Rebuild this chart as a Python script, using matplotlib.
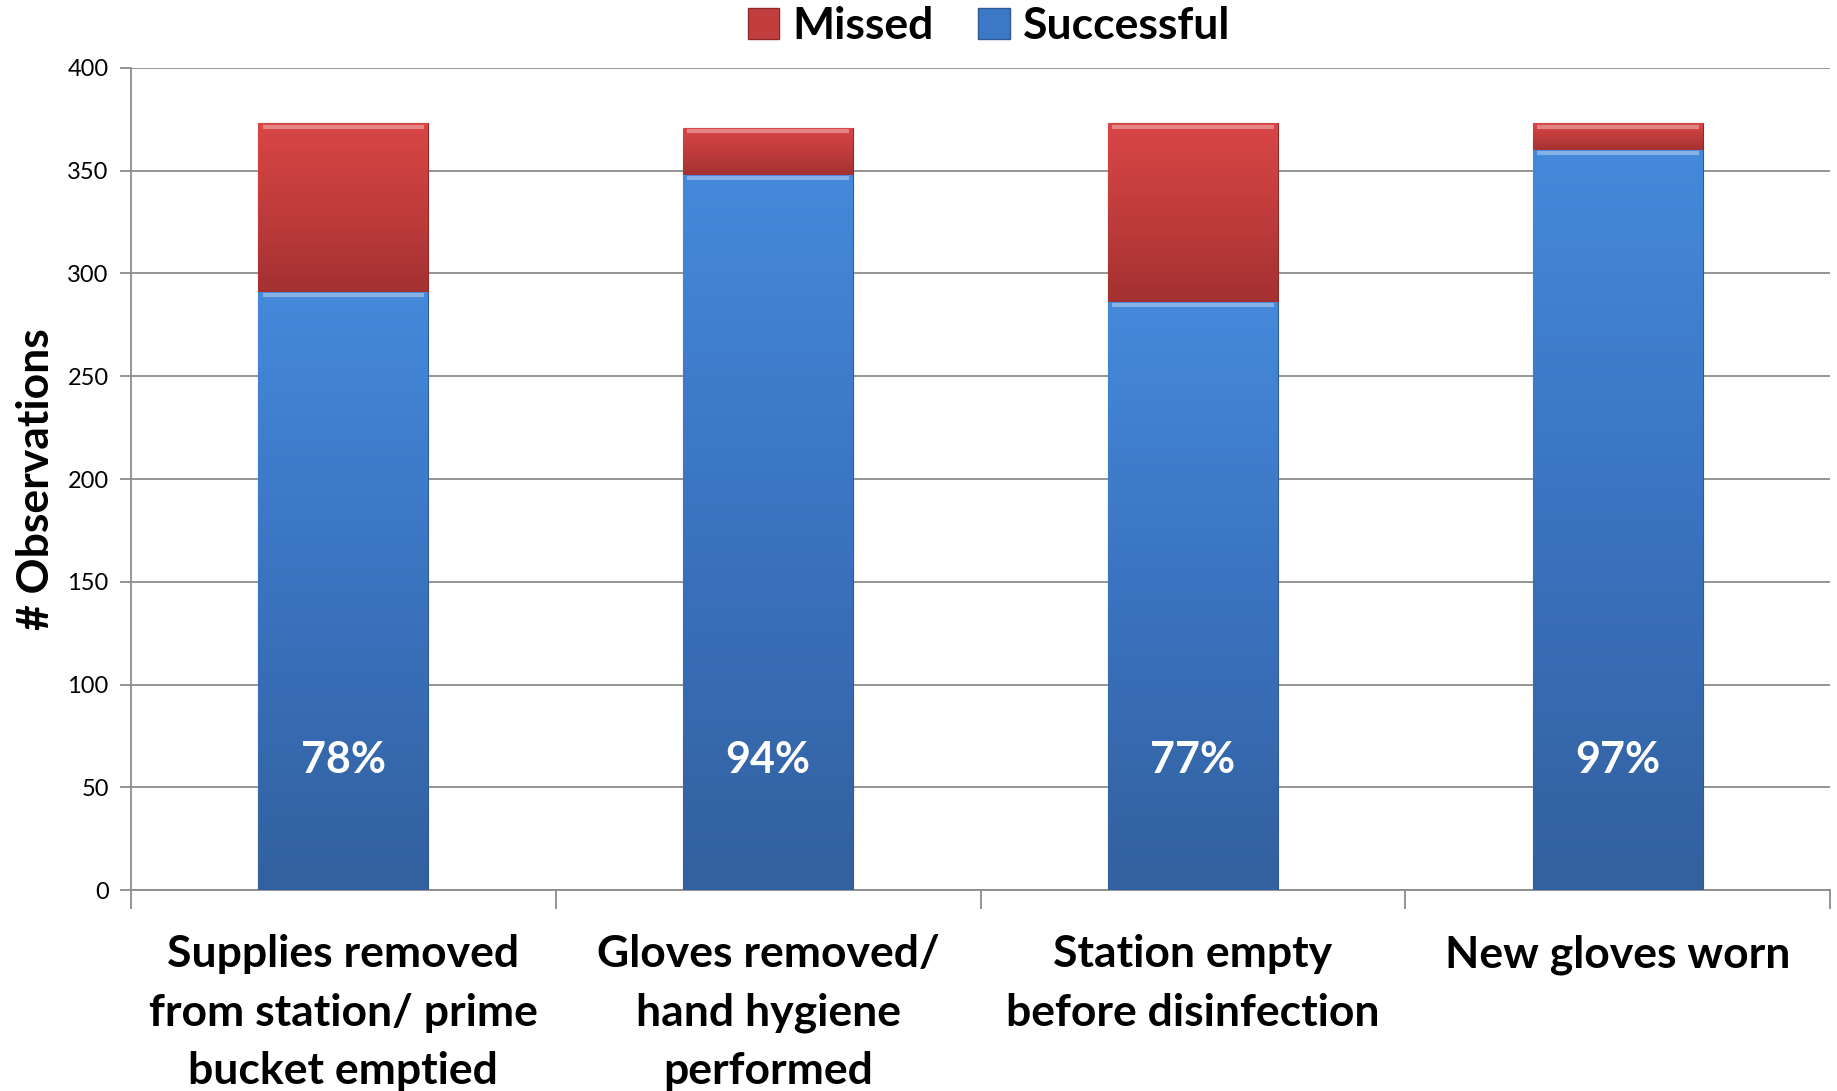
import matplotlib.pyplot as plt
import numpy as np
from matplotlib.patches import Patch
from matplotlib.colors import LinearSegmentedColormap

plt.rcParams['font.family'] = ['Lato', 'DejaVu Sans']

categories = ['Supplies removed\nfrom station/ prime\nbucket emptied',
              'Gloves removed/\nhand hygiene\nperformed',
              'Station empty\nbefore disinfection',
              'New gloves worn']
successful = [291, 348, 286, 360]
missed = [82, 23, 87, 13]
pct_labels = ['78%', '94%', '77%', '97%']

blue_cm = LinearSegmentedColormap.from_list('b', ['#33609e', '#3a73c0', '#4589da'])
red_cm = LinearSegmentedColormap.from_list('r', ['#a43131', '#c13c3c', '#d94646'])

fig = plt.figure(figsize=(18.37, 10.91), dpi=100)
ax = fig.add_axes([0.0713, 0.1842, 0.925, 0.7535])

x = np.arange(len(categories))
w = 0.4
b1 = ax.bar(x, successful, w, color='#3d78c6', edgecolor='#2f5a95', linewidth=0.8, zorder=3)
b2 = ax.bar(x, missed, w, bottom=successful, color='#c23d3d', edgecolor='#8e2a2a', linewidth=0.8, zorder=3)

# vertical gradient inside each bar
grad = np.linspace(0, 1, 256).reshape(-1, 1)
for bars, cm in ((b1, blue_cm), (b2, red_cm)):
    for p in bars:
        x0, y0 = p.get_x(), p.get_y()
        im = ax.imshow(grad, cmap=cm, origin='lower', aspect='auto',
                       extent=[x0, x0 + p.get_width(), y0, y0 + p.get_height()], zorder=3.5)
        im.set_clip_path(p)
        # light highlight line at top of each segment
        ax.plot([x0 + 0.01, x0 + p.get_width() - 0.01], [y0 + p.get_height() - 1.5] * 2,
                color='white', alpha=0.35, lw=3, zorder=4, solid_capstyle='butt')

for i, t in enumerate(pct_labels):
    ax.text(x[i], 63.5, t, color='white', fontsize=31, fontweight='bold',
            ha='center', va='center', zorder=5)

ax.set_xlim(-0.5, 3.5)
ax.set_ylim(0, 400)
ax.set_yticks(range(0, 401, 50))
ax.yaxis.grid(True, color='#8c8c8c', lw=1.3, zorder=0)
ax.set_axisbelow(True)
ax.tick_params(axis='y', labelsize=17, colors='#8c8c8c', labelcolor='black', length=8, width=1.3, pad=8)

ax.set_xticks(x)
ax.set_xticklabels(categories, fontsize=32, fontweight='bold', linespacing=1.55)
ax.tick_params(axis='x', length=0, pad=32)
ax.set_xticks(np.arange(-0.5, 4.0, 1.0), minor=True)
ax.tick_params(axis='x', which='minor', length=14, width=1.3, colors='#8c8c8c')
for lbl in ax.get_xticklabels():
    lbl.set_verticalalignment('top')

for s in ['top', 'right']:
    ax.spines[s].set_visible(False)
for s in ['left', 'bottom']:
    ax.spines[s].set_color('#8c8c8c')
    ax.spines[s].set_linewidth(1.3)

ax.set_ylabel('# Observations', fontsize=32, fontweight='bold', labelpad=8)

handles = [Patch(facecolor='#c23d3d', edgecolor='#8e2a2a'),
           Patch(facecolor='#3d78c6', edgecolor='#2f5a95')]
fig.legend(handles, ['Missed', 'Successful'], loc='center', bbox_to_anchor=(0.5385, 0.976),
           ncol=2, frameon=False, prop={'size': 32, 'weight': 'bold'},
           handlelength=0.7, handleheight=0.7, handletextpad=0.3, columnspacing=1.0)

plt.savefig('out.png', dpi=100, facecolor='white')
